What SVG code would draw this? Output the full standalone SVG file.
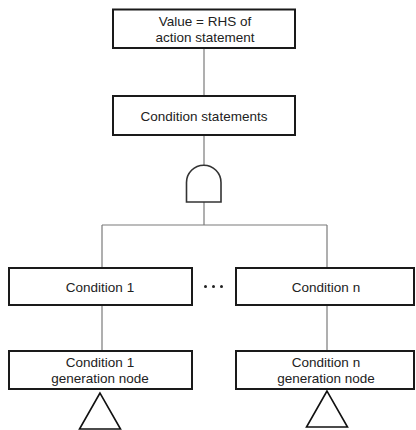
<svg xmlns="http://www.w3.org/2000/svg" width="416" height="430" viewBox="0 0 416 430">
<style>
.box{fill:#fff;stroke:#1a1a1a;stroke-width:2}
.lbl{font-family:"Liberation Sans",Arial,sans-serif;font-size:13.5px;fill:#222;text-anchor:middle}
.conn{stroke:#7a7a7a;stroke-width:1.2;fill:none}
.gate{fill:#fff;stroke:#333;stroke-width:1.6}
.tri{fill:#fff;stroke:#111;stroke-width:1.6}
</style>
<rect width="416" height="430" fill="#fff"/>
<g id="connectors">
<line class="conn" x1="204" y1="48" x2="204" y2="96"/>
<line class="conn" x1="204" y1="135" x2="204" y2="165"/>
<line class="conn" x1="204" y1="200" x2="204" y2="225"/>
<line class="conn" x1="102" y1="225" x2="327" y2="225"/>
<line class="conn" x1="102" y1="225" x2="102" y2="268"/>
<line class="conn" x1="327" y1="225" x2="327" y2="268"/>
<line class="conn" x1="102" y1="305" x2="102" y2="351"/>
<line class="conn" x1="327" y1="305" x2="327" y2="351"/>
</g>
<g id="value">
<rect class="box" x="113" y="9.5" width="182" height="38.5"/>
<text class="lbl" x="205" y="26">Value = RHS of</text>
<text class="lbl" x="205" y="42">action statement</text>
</g>
<g id="condstatements">
<rect class="box" x="113" y="96" width="182" height="39"/>
<text class="lbl" x="204" y="121">Condition statements</text>
</g>
<g id="andgate">
<path class="gate" d="M186.5,202 L186.5,182.5 A17.25,17.25 0 0 1 221,182.5 L221,202 Z"/>
</g>
<g id="cond1">
<rect class="box" x="9" y="268" width="183" height="37"/>
<text class="lbl" x="100" y="292">Condition 1</text>
</g>
<g id="ellipsis">
<circle cx="205.5" cy="286.5" r="1.5" fill="#222"/>
<circle cx="213.5" cy="286.5" r="1.5" fill="#222"/>
<circle cx="221.5" cy="286.5" r="1.5" fill="#222"/>
</g>
<g id="condn">
<rect class="box" x="236" y="268" width="178" height="37"/>
<text class="lbl" x="326" y="292">Condition n</text>
</g>
<g id="gen1">
<rect class="box" x="9" y="351" width="183" height="38"/>
<text class="lbl" x="100" y="367">Condition 1</text>
<text class="lbl" x="100" y="383">generation node</text>
</g>
<g id="genn">
<rect class="box" x="236" y="351" width="178" height="38"/>
<text class="lbl" x="326" y="367">Condition n</text>
<text class="lbl" x="326" y="383">generation node</text>
</g>
<g id="tri1">
<polygon class="tri" points="100,393 79.5,429 120.5,429"/>
</g>
<g id="trin">
<polygon class="tri" points="327,391 306.5,427 347.5,427"/>
</g>
</svg>
